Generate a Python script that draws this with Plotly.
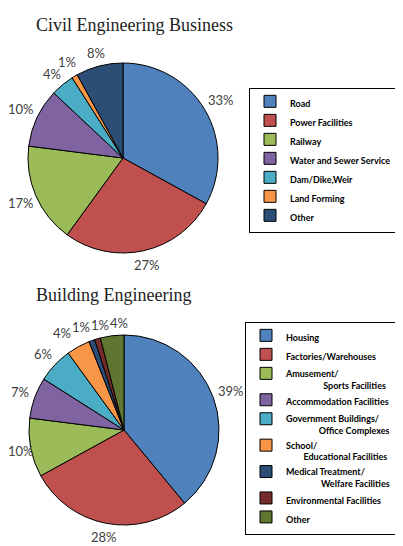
import math
import plotly.graph_objects as go

civil_labels = ["Road", "Power Facilities", "Railway", "Water and Sewer Service",
                "Dam/Dike,Weir", "Land Forming", "Other"]
civil_values = [33, 27, 17, 10, 4, 1, 8]

NB = "\u00a0"
# trailing NBSP on the last label keeps it distinct from the civil "Other" legend entry
bldg_labels = ["Housing", "Factories/Warehouses",
               "Amusement/<br>" + NB * 17 + "Sports Facilities",
               "Accommodation Facilities",
               "Government Buildings/<br>" + NB * 15 + "Office Complexes",
               "School/<br>" + NB * 8 + "Educational Facilities",
               "Medical Treatment/<br>" + NB * 16 + "Welfare Facilities",
               "Environmental Facilities", "Other" + NB]
bldg_values = [39, 28, 10, 7, 6, 4, 1, 1, 4]

civil_colors = ["#4F81BD", "#C0504D", "#9BBB59", "#8064A2", "#4BACC6", "#F79646", "#2C4D75"]
bldg_colors = ["#4F81BD", "#C0504D", "#9BBB59", "#8064A2", "#4BACC6", "#F79646",
               "#2C4D75", "#772C2A", "#5F7530"]

W, H = 403, 546
OFF = 8  # page body margin offsets the figure by 8px
PIE1 = dict(cx=123, cy=158, r=95)
PIE2 = dict(cx=124, cy=430, r=95)
LABEL_SIZE = 13


def px(x):
    return (x - OFF) / W


def py(y):
    return 1 - (y - OFF) / H


def domain(p):
    return dict(x=[px(p["cx"] - p["r"]), px(p["cx"] + p["r"])],
                y=[py(p["cy"] + p["r"]), py(p["cy"] - p["r"])])


def label_annotations(values, p, fs):
    total = sum(values)
    cum = 0
    items = []
    for v in values:
        mid = (cum + v / 2) / total * 2 * math.pi
        cum += v
        s, c = math.sin(mid), math.cos(mid)
        txt = f"{v}%"
        w = fs * (0.5 * (len(txt) - 1) + 0.8)
        h = fs * 0.9
        d = p["r"] + 6 + 0.5 * (abs(s) * w + abs(c) * h)
        items.append([p["cx"] + s * d, p["cy"] - c * d, w, h, txt])
    for _ in range(60):
        for i in range(len(items)):
            for j in range(i + 1, len(items)):
                a, b = items[i], items[j]
                ox = (a[2] + b[2]) / 2 + 2 - abs(a[0] - b[0])
                oy = (a[3] + b[3]) / 2 - abs(a[1] - b[1])
                if ox > 0 and oy > 0:
                    if ox < 2 * oy:
                        sgn = 1 if b[0] >= a[0] else -1
                        a[0] -= sgn * ox / 2
                        b[0] += sgn * ox / 2
                    else:
                        sgn = 1 if b[1] >= a[1] else -1
                        a[1] -= sgn * oy / 2
                        b[1] += sgn * oy / 2
    for it in items:
        it[0] = max(it[0], OFF + it[2] / 2 + 1)
    return [dict(text=t, x=px(x), y=py(y), xref="paper", yref="paper",
                 xanchor="center", yanchor="middle", showarrow=False,
                 font=dict(family="Lato", size=fs, color="#404040"))
            for x, y, _, _, t in items]


fig = go.Figure()
fig.add_trace(go.Pie(
    labels=civil_labels, values=civil_values, sort=False, direction="clockwise",
    rotation=0, marker=dict(colors=civil_colors, line=dict(color="black", width=1)),
    textinfo="none", domain=domain(PIE1), legend="legend", hoverinfo="label+percent",
))
fig.add_trace(go.Pie(
    labels=bldg_labels, values=bldg_values, sort=False, direction="clockwise",
    rotation=0, marker=dict(colors=bldg_colors, line=dict(color="black", width=1)),
    textinfo="none", domain=domain(PIE2), legend="legend2", hoverinfo="label+percent",
))

legend_font = dict(family="Lato", size=9, color="black", weight="bold")
annotations = [
    dict(text="Civil Engineering Business", x=px(134), y=py(25), xref="paper", yref="paper",
         xanchor="center", yanchor="middle", showarrow=False,
         font=dict(family="Liberation Serif", size=18, color="#222222")),
    dict(text="Building Engineering", x=px(113), y=py(295), xref="paper", yref="paper",
         xanchor="center", yanchor="middle", showarrow=False,
         font=dict(family="Liberation Serif", size=18, color="#222222")),
]
annotations += label_annotations(civil_values, PIE1, LABEL_SIZE)
annotations += label_annotations(bldg_values, PIE2, LABEL_SIZE)

fig.update_layout(
    width=W, height=H, margin=dict(l=0, r=0, t=0, b=0, autoexpand=False),
    paper_bgcolor="white", plot_bgcolor="white",
    legend=dict(x=px(249), y=py(88), xanchor="left", yanchor="top", font=legend_font,
                bordercolor="black", borderwidth=1, bgcolor="white", traceorder="normal",
                itemwidth=30, valign="top"),
    legend2=dict(x=px(245), y=py(322), xanchor="left", yanchor="top", font=legend_font,
                 bordercolor="black", borderwidth=1, bgcolor="white", traceorder="normal",
                 itemwidth=30, valign="top"),
    annotations=annotations,
)

fig.write_html("out.html")
